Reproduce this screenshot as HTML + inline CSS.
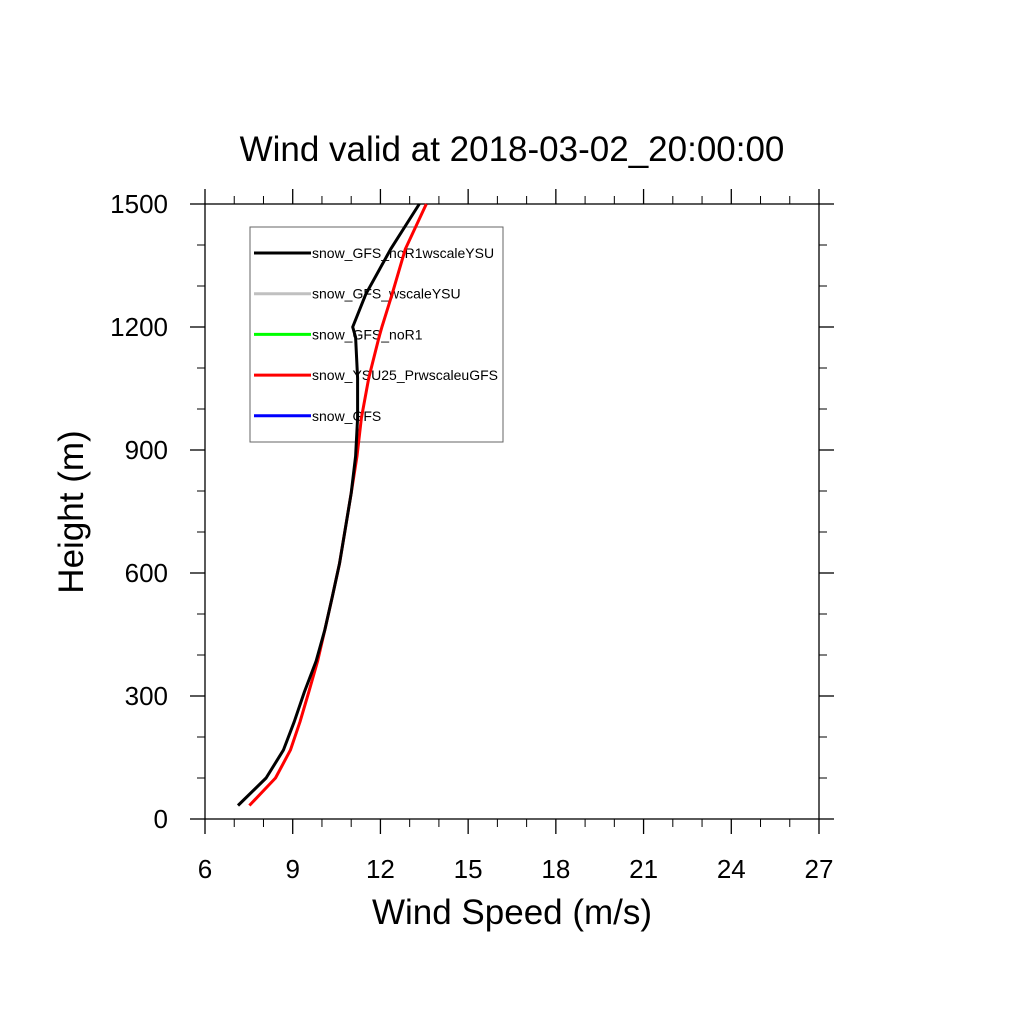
<!DOCTYPE html>
<html><head><meta charset="utf-8"><style>
html,body{margin:0;padding:0;background:#fff;}
svg{display:block;font-family:"Liberation Sans",Arial,sans-serif;}
</style></head><body>
<svg id="chart" width="1024" height="1024" viewBox="0 0 1024 1024">
<text x="512" y="161" font-size="35" text-anchor="middle">Wind valid at 2018-03-02_20:00:00</text>
<g id="axes"></g>
<g id="series"></g>
<text x="512" y="924" font-size="35" text-anchor="middle">Wind Speed (m/s)</text>
<text transform="translate(83,512) rotate(-90)" font-size="35" text-anchor="middle">Height (m)</text>
<g id="legend"></g>
</svg>
<script>
const xTicks = [6, 9, 12, 15, 18, 21, 24, 27];
const yTicks = [0, 300, 600, 900, 1200, 1500];
const heights = [33, 100, 168, 237, 310, 385, 462, 541, 623, 708, 795, 885, 978, 1075, 1175, 1200, 1280, 1390, 1500];
const blackSpeed = [7.13, 8.09, 8.68, 9.05, 9.4, 9.8, 10.1, 10.35, 10.6, 10.8, 11.0, 11.15, 11.22, 11.22, 11.15, 11.05, 11.5, 12.35, 13.33];
const redSpeed = [7.52, 8.41, 8.92, 9.25, 9.55, 9.85, 10.1, 10.35, 10.6, 10.8, 11.0, 11.2, 11.35, 11.6, 11.95, 12.05, 12.4, 12.85, 13.57];
const legendLabels = ["snow_GFS_noR1wscaleYSU", "snow_GFS_wscaleYSU", "snow_GFS_noR1", "snow_YSU25_PrwscaleuGFS", "snow_GFS"];
const legendColors = ["#000000", "#c0c0c0", "#00ff00", "#ff0000", "#0000ff"];

const NS = "http://www.w3.org/2000/svg";
const L = 205, R = 819, T = 204, B = 819;
const xMin = 6, xMax = 27, yMin = 0, yMax = 1500;
function xs(v){ return L + (v - xMin) / (xMax - xMin) * (R - L); }
function ys(v){ return B - (v - yMin) / (yMax - yMin) * (B - T); }
function mk(tag, attrs, parent){
  const e = document.createElementNS(NS, tag);
  for (const k in attrs) e.setAttribute(k, attrs[k]);
  parent.appendChild(e);
  return e;
}
const axes = document.getElementById("axes");
const frame = mk("rect", {x:L, y:T, width:R-L, height:B-T, fill:"none", stroke:"#000", "stroke-width":1.3}, axes);


for (let i = 0; i < xTicks.length; i++) {
  const x = xs(xTicks[i]);
  const t1 = mk("line", {x1:x, x2:x, y1:B, y2:B+15, stroke:"#000", "stroke-width":1.3}, axes);
  
  
  const t2 = mk("line", {x1:x, x2:x, y1:T, y2:T-15, stroke:"#000", "stroke-width":1.3}, axes);
  
  
  const lb = mk("text", {x:x, y:878, "font-size":26, "text-anchor":"middle"}, axes);
  lb.textContent = xTicks[i];
  
  
  if (i < xTicks.length - 1) {
    for (let m = 1; m < 3; m++) {
      const xm = xs(xTicks[i] + m);
      const a = mk("line", {x1:xm, x2:xm, y1:B, y2:B+8, stroke:"#000", "stroke-width":1}, axes);
      
      
      const b = mk("line", {x1:xm, x2:xm, y1:T, y2:T-8, stroke:"#000", "stroke-width":1}, axes);
      
      
    }
  }
}
for (let i = 0; i < yTicks.length; i++) {
  const y = ys(yTicks[i]);
  const t1 = mk("line", {x1:L, x2:L-15, y1:y, y2:y, stroke:"#000", "stroke-width":1.3}, axes);
  
  
  const t2 = mk("line", {x1:R, x2:R+15, y1:y, y2:y, stroke:"#000", "stroke-width":1.3}, axes);
  
  
  const lb = mk("text", {x:168, y:y+9, "font-size":26, "text-anchor":"end"}, axes);
  lb.textContent = yTicks[i];
  
  
  if (i < yTicks.length - 1) {
    for (let m = 1; m < 3; m++) {
      const ym = ys(yTicks[i] + m * 100);
      const a = mk("line", {x1:L, x2:L-8, y1:ym, y2:ym, stroke:"#000", "stroke-width":1}, axes);
      
      
      const b = mk("line", {x1:R, x2:R+8, y1:ym, y2:ym, stroke:"#000", "stroke-width":1}, axes);
      
      
    }
  }
}
const lg = document.getElementById("legend");
const box = mk("rect", {x:250, y:227, width:253, height:215, fill:"#fff", stroke:"#666", "stroke-width":1}, lg);


for (let i = 0; i < legendLabels.length; i++) {
  const y = 253 + i * 40.7;
  const ln = mk("line", {x1:254, x2:311, y1:y, y2:y, stroke:legendColors[i], "stroke-width":3}, lg);
  
  
  const tx = mk("text", {x:312, y:y+5, "font-size":14}, lg);
  tx.textContent = legendLabels[i];
  
  
}
const sg = document.getElementById("series");
document.getElementById("chart").appendChild(sg);
function pts(sp){ return sp.map((v, i) => xs(v).toFixed(1) + "," + ys(heights[i]).toFixed(1)).join(" "); }
const red = mk("polyline", {points:pts(redSpeed), fill:"none", stroke:"#ff0000", "stroke-width":3, "stroke-linejoin":"round"}, sg);


const blk = mk("polyline", {points:pts(blackSpeed), fill:"none", stroke:"#000000", "stroke-width":3, "stroke-linejoin":"round"}, sg);


</script>
</body></html>
